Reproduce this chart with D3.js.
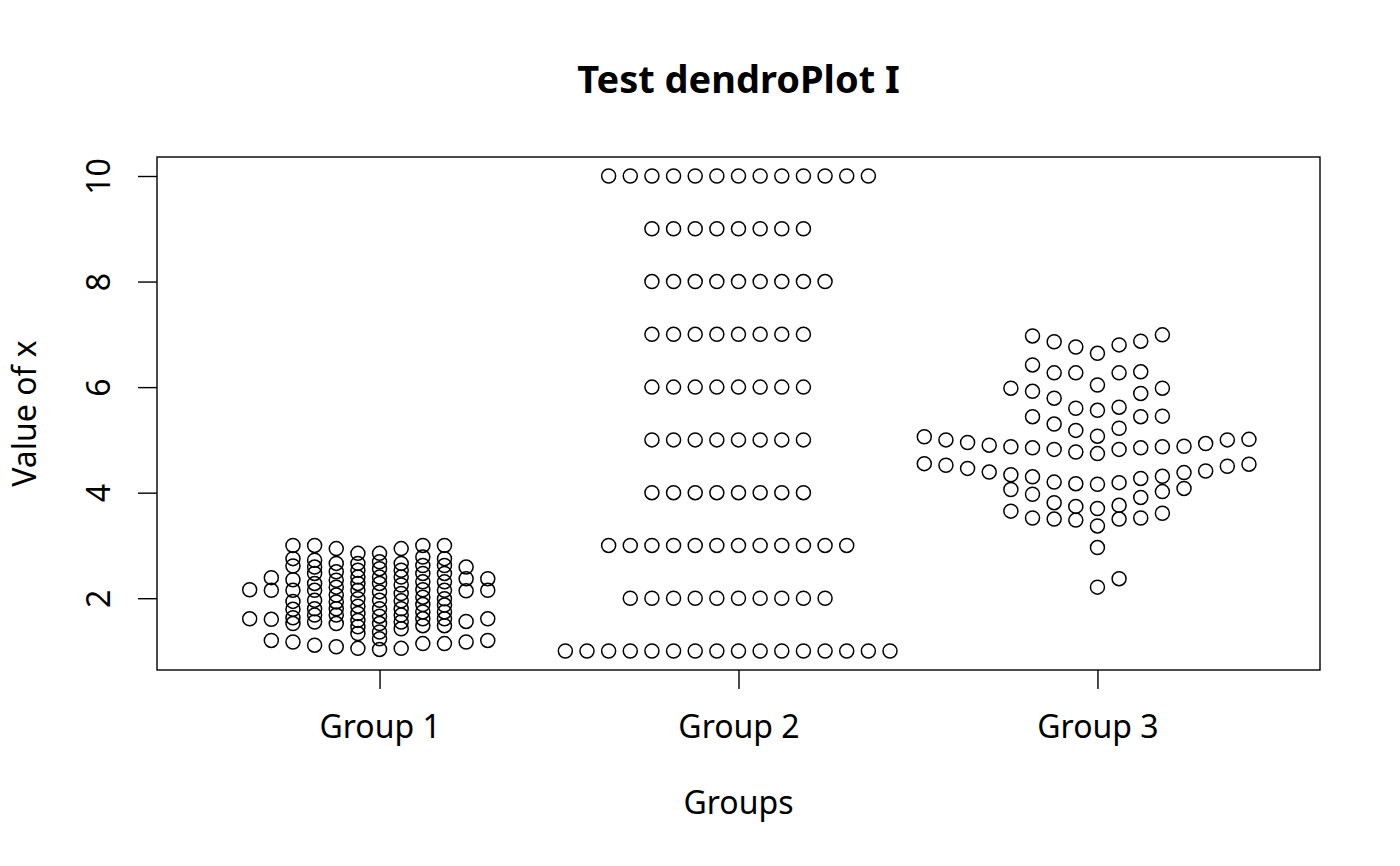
<!DOCTYPE html>
<html>
<head>
<meta charset="utf-8">
<script src="https://cdn.jsdelivr.net/npm/d3@7"></script>
<style>
  html, body { margin: 0; padding: 0; background: #fff; }
  svg { display: block; }
  text { font-family: "Noto Sans", "Open Sans", sans-serif; fill: #000; }
</style>
</head>
<body>
<svg id="chart" width="1400" height="866"></svg>
<script>
// ---------------- data ----------------
const categories = ["Group 1", "Group 2", "Group 3"];
const yTickValues = [2, 4, 6, 8, 10];
const titleText = "Test dendroPlot I";
const xLabelText = "Groups";
const yLabelText = "Value of x";

// Each group: list of swarm columns (left to right), each column lists its values.
const group1Columns = [
  [2.16, 1.61],
  [2.39, 2.15, 1.60, 1.20],
  [3.00, 2.75, 2.61, 2.35, 2.15, 1.94, 1.79, 1.63, 1.52, 1.17],
  [3.00, 2.72, 2.59, 2.47, 2.28, 2.15, 1.96, 1.80, 1.68, 1.55, 1.11],
  [2.94, 2.66, 2.50, 2.34, 2.21, 2.06, 1.93, 1.80, 1.68, 1.52, 1.08],
  [2.85, 2.66, 2.53, 2.40, 2.28, 2.15, 1.99, 1.85, 1.71, 1.58, 1.46, 1.33, 1.05],
  [2.85, 2.69, 2.56, 2.40, 2.28, 2.12, 1.96, 1.80, 1.66, 1.52, 1.36, 1.23, 1.03],
  [2.94, 2.66, 2.53, 2.40, 2.25, 2.09, 1.95, 1.80, 1.68, 1.55, 1.42, 1.05],
  [3.00, 2.78, 2.62, 2.47, 2.31, 2.16, 2.02, 1.88, 1.74, 1.61, 1.48, 1.14],
  [3.00, 2.75, 2.62, 2.47, 2.31, 2.15, 1.99, 1.87, 1.74, 1.61, 1.48, 1.14],
  [2.59, 2.37, 2.14, 1.56, 1.17],
  [2.37, 2.15, 1.61, 1.20]
];
const group2Columns = [
  [1],
  [1],
  [1, 3, 10],
  [1, 2, 3, 10],
  [1, 2, 3, 4, 5, 6, 7, 8, 9, 10],
  [1, 2, 3, 4, 5, 6, 7, 8, 9, 10],
  [1, 2, 3, 4, 5, 6, 7, 8, 9, 10],
  [1, 2, 3, 4, 5, 6, 7, 8, 9, 10],
  [1, 2, 3, 4, 5, 6, 7, 8, 9, 10],
  [1, 2, 3, 4, 5, 6, 7, 8, 9, 10],
  [1, 2, 3, 4, 5, 6, 7, 8, 9, 10],
  [1, 2, 3, 4, 5, 6, 7, 8, 9, 10],
  [1, 2, 3, 8, 10],
  [1, 3, 10],
  [1, 10],
  [1]
];
const group3Columns = [
  [5.06, 4.55],
  [5.00, 4.52],
  [4.95, 4.46],
  [4.90, 4.39],
  [5.98, 4.87, 4.34, 4.06, 3.65],
  [6.97, 6.42, 5.92, 5.44, 4.85, 4.30, 3.97, 3.52],
  [6.86, 6.27, 5.79, 5.30, 4.82, 4.20, 3.81, 3.50],
  [6.76, 6.27, 5.60, 5.18, 4.77, 4.17, 3.74, 3.48],
  [6.64, 6.04, 5.56, 5.07, 4.74, 4.16, 3.70, 3.37, 2.96, 2.21],
  [6.80, 6.27, 5.62, 5.22, 4.82, 4.19, 3.76, 3.50, 2.37],
  [6.87, 6.29, 5.88, 5.44, 4.85, 4.27, 3.91, 3.52],
  [6.99, 5.98, 5.45, 4.87, 4.31, 4.02, 3.61],
  [4.88, 4.38, 4.08],
  [4.93, 4.41],
  [5.00, 4.50],
  [5.01, 4.54]
];
const groupColumns = [group1Columns, group2Columns, group3Columns];

// ---------------- layout ----------------
const plot = { left: 157, right: 1320, top: 157, bottom: 670 };
const slotWidth = 0.0603;   // horizontal spacing between swarm columns (x units)
const axisFont = 32, titleFont = 38;
const tickLen = 19;

const svg = d3.select("#chart");

const x = d3.scaleLinear().domain([0.38, 3.62]).range([plot.left, plot.right]);
const y = d3.scaleLinear().domain([0.64, 10.36]).range([plot.bottom, plot.top]);

// flatten points
const points = [];
groupColumns.forEach((cols, gi) => {
  const first = -Math.floor(cols.length / 2);
  cols.forEach((vals, ci) => {
    vals.forEach(v => points.push({ g: gi + 1, slot: first + ci, v }));
  });
});

svg.append("g")
  .selectAll("circle")
  .data(points)
  .join("circle")
  .attr("cx", d => x(d.g + d.slot * slotWidth))
  .attr("cy", d => y(d.v))
  .attr("r", 7)
  .attr("fill", "none")
  .attr("stroke", "#000")
  .attr("stroke-width", 1.5);

// box
svg.append("rect")
  .attr("x", plot.left).attr("y", plot.top)
  .attr("width", plot.right - plot.left)
  .attr("height", plot.bottom - plot.top)
  .attr("fill", "none").attr("stroke", "#000").attr("stroke-width", 1.4);

// y axis
const yAxis = svg.append("g")
  .attr("transform", `translate(${plot.left},0)`)
  .call(d3.axisLeft(y).tickValues(yTickValues).tickSize(tickLen).tickFormat(d3.format("d")));
yAxis.select(".domain").remove();
yAxis.selectAll(".tick line").attr("stroke", "#000").attr("stroke-width", 1.4);
yAxis.selectAll(".tick text")
  .attr("transform", "rotate(-90)")
  .attr("x", 0).attr("y", -47).attr("dy", 0)
  .attr("text-anchor", "middle")
  .style("font-size", axisFont + "px")
  .style("font-family", '"Noto Sans", sans-serif');

// x axis
const xAxis = svg.append("g")
  .attr("transform", `translate(0,${plot.bottom})`)
  .call(d3.axisBottom(x).tickValues([1, 2, 3]).tickSize(tickLen).tickFormat(d => categories[d - 1]));
xAxis.select(".domain").remove();
xAxis.selectAll(".tick line").attr("stroke", "#000").attr("stroke-width", 1.4);
xAxis.selectAll(".tick text")
  .attr("y", 68).attr("dy", 0)
  .style("font-size", axisFont + "px")
  .style("font-family", '"Noto Sans", sans-serif');

// title
svg.append("text")
  .attr("x", (plot.left + plot.right) / 2).attr("y", 93)
  .attr("text-anchor", "middle")
  .style("font-size", titleFont + "px").style("font-weight", "bold")
  .text(titleText);

// axis labels
svg.append("text")
  .attr("x", (plot.left + plot.right) / 2).attr("y", 814)
  .attr("text-anchor", "middle")
  .style("font-size", axisFont + "px")
  .text(xLabelText);

svg.append("text")
  .attr("transform", `translate(36,${(plot.top + plot.bottom) / 2}) rotate(-90)`)
  .attr("text-anchor", "middle")
  .style("font-size", axisFont + "px")
  .text(yLabelText);
</script>
</body>
</html>
